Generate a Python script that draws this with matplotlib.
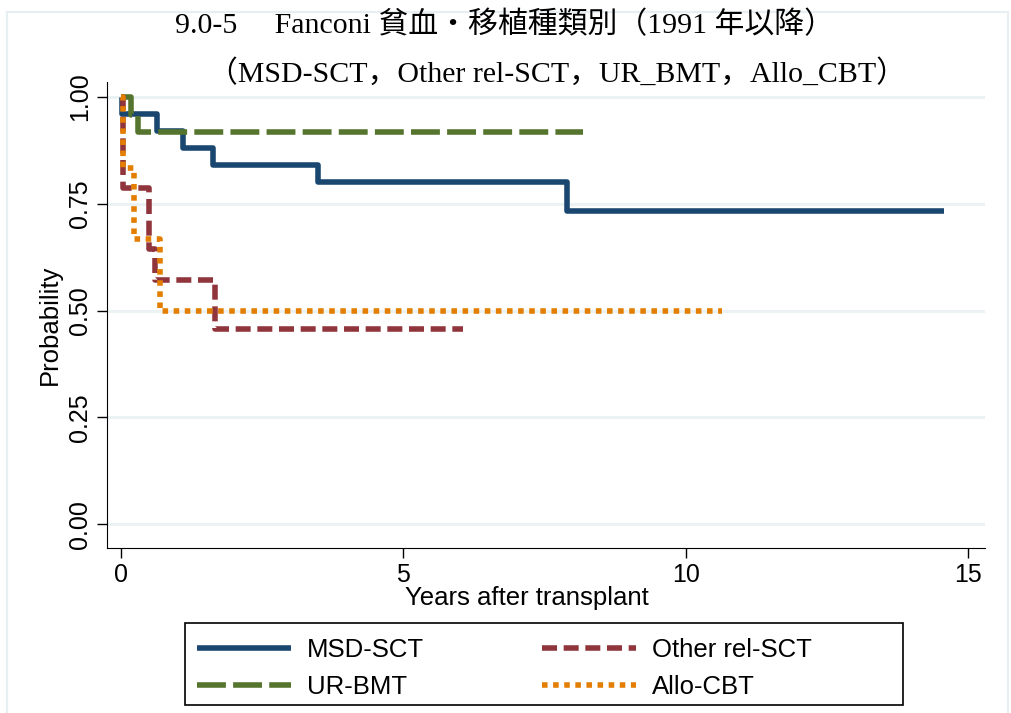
import matplotlib.pyplot as plt
from matplotlib.patches import Rectangle

# Kaplan-Meier style step curves (years, survival probability)
msd_years = [0.0, 0.01, 0.64, 1.10, 1.63, 3.49, 7.90, 14.57]
msd_prob = [1.0, 0.96, 0.92, 0.88, 0.84, 0.80, 0.733, 0.733]

ur_years = [0.0, 0.18, 0.30, 8.18]
ur_prob = [1.0, 0.958, 0.917, 0.917]

other_years = [0.0, 0.03, 0.50, 0.60, 1.67, 6.05]
other_prob = [1.0, 0.786, 0.643, 0.571, 0.457, 0.457]

cbt_years = [0.0, 0.03, 0.22, 0.68, 10.65]
cbt_prob = [1.0, 0.833, 0.667, 0.50, 0.50]

series_labels = ['MSD-SCT', 'UR-BMT', 'Other rel-SCT', 'Allo-CBT']
y_ticks = [0.0, 0.25, 0.5, 0.75, 1.0]
x_ticks = [0, 5, 10, 15]

title_1 = '9.0-5\u3000 Fanconi 貧血・移植種類別（1991 年以降）'
title_2 = '（MSD-SCT，Other rel-SCT，UR_BMT，Allo_CBT）'

W, H = 1011, 713
fig = plt.figure(figsize=(W / 100, H / 100), dpi=100)
ax = fig.add_axes([107 / W, 1 - 548 / H, (985 - 107) / W, (548 - 82) / H])

sans = ['Liberation Sans Narrow', 'Liberation Sans', 'DejaVu Sans']
serif = ['Liberation Serif', 'Noto Sans CJK JP']

# faint graph-region frame
fig.patches.append(Rectangle((7 / W, -0.05), (1008 - 7) / W, 1.05 - 12 / H,
                             transform=fig.transFigure, fill=False,
                             edgecolor='#e8eff2', linewidth=1.6))

for yt in y_ticks:
    ax.axhline(yt, color='#eaf2f3', linewidth=2.2, zorder=0)

lw = 4.0
l1, = ax.step(msd_years, msd_prob, where='post', color='#1a476f', linewidth=lw,
              solid_capstyle='butt', label=series_labels[0])
l2, = ax.step(ur_years, ur_prob, where='post', color='#55752f', linewidth=lw,
              dashes=(5.2, 1.3), dash_capstyle='butt', label=series_labels[1])
l3, = ax.step(other_years, other_prob, where='post', color='#90353b', linewidth=lw,
              dashes=(2.7, 1.2), dash_capstyle='butt', label=series_labels[2])
l4, = ax.step(cbt_years, cbt_prob, where='post', color='#e37e00', linewidth=lw,
              dashes=(1.0, 1.0), dash_capstyle='butt', label=series_labels[3])

ax.set_xlim(-0.25, 15.3)
ax.set_ylim(-0.056, 1.035)
ax.set_xticks(x_ticks)
ax.set_yticks(y_ticks)
ax.set_yticklabels(['%.2f' % v for v in y_ticks], rotation=90, va='center')
ax.tick_params(axis='both', labelsize=18, length=7, width=1, color='black')
for lab in ax.get_xticklabels() + ax.get_yticklabels():
    lab.set_family(sans)
ax.spines['top'].set_visible(False)
ax.spines['right'].set_visible(False)

fig.text(527 / W, 1 - 598 / H, 'Years after transplant', ha='center', va='center',
         fontsize=18.5, family=sans)
fig.text(50 / W, 1 - 325 / H, 'Probability', ha='center', va='center',
         rotation=90, fontsize=18.5, family=sans)

fig.text(175 / W, 1 - 33 / H, title_1, ha='left', va='baseline', fontsize=21.5, family=serif)
fig.text(208 / W, 1 - 82 / H, title_2, ha='left', va='baseline', fontsize=21.5, family=serif)

# legend box drawn by hand, entries placed inside it
fig.patches.append(Rectangle((185 / W, 1 - 705 / H), (903 - 185) / W, (705 - 623) / H,
                             transform=fig.transFigure, fill=False,
                             edgecolor='black', linewidth=1.2))
leg = fig.legend([l1, l2, l3, l4], series_labels, ncol=2,
                 loc='upper left', bbox_to_anchor=(179 / W, 1 - 620 / H),
                 prop={'family': sans, 'size': 18.5}, frameon=False,
                 handlelength=3.66, columnspacing=4.6, labelspacing=0.52,
                 borderpad=0.2, handletextpad=0.62)

fig.savefig('out.png', dpi=100)
